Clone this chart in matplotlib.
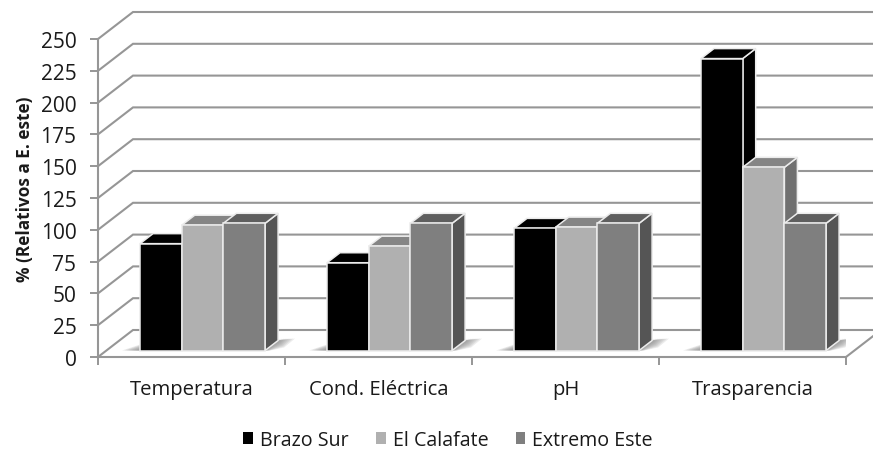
from matplotlib import pyplot as plt
from matplotlib.patches import Patch, Polygon
import numpy as np

categories = ['Temperatura', 'Cond. Eléctrica', 'pH', 'Trasparencia']
series_names = ['Brazo Sur', 'El Calafate', 'Extremo Este']
brazo_sur = [84, 69, 96, 229.5]
el_calafate = [98.5, 82, 97, 144]
extremo_este = [100, 100, 100, 100]
y_ticks = [0, 25, 50, 75, 100, 125, 150, 175, 200, 225, 250]

# front, top and side colour of each series
colors = [('#000000', '#000000', '#000000'),
          ('#b0b0b0', '#858585', '#707070'),
          ('#7f7f7f', '#5f5f5f', '#555555')]
grid_color = '#969696'
plt.rcParams['font.family'] = ['Open Sans', 'DejaVu Sans']

W, H = 873, 452
fig = plt.figure(figsize=(W/100, H/100), dpi=100)
ax = fig.add_axes([98/W, (H-358)/H, 748/W, 318/H])
ax.set_xlim(0, 4)
ax.set_ylim(0, 250)

# pixel sizes to data units
px_x = 4/748
px_y = 250/318

# wall and floor depth
wall_dx = 35*px_x
wall_dy = 27*px_y
for v in y_ticks:
    ax.plot([0, wall_dx, 4+wall_dx], [v, v+wall_dy, v+wall_dy], color=grid_color,
            lw=1.5, clip_on=False, zorder=1, solid_joinstyle='miter')
ax.plot([4, 4+wall_dx], [0, wall_dy], color=grid_color, lw=1.5, clip_on=False, zorder=1)

# bar geometry
bar_w = 41.7*px_x
base_y = 6.5*px_y
dx = 13*px_x
dy = 10*px_y

all_values = [brazo_sur, el_calafate, extremo_este]
for c in range(len(categories)):
    left = c + 42*px_x
    # floor shadows, faded by stacking
    for k in range(8):
        f = 1 - k/8
        x1 = left + 3*bar_w
        ax.add_patch(Polygon([(x1, base_y), (x1+dx, base_y+dy),
                              (x1+dx+17*f*px_x, base_y+dy+2*px_y),
                              (x1+dx+6*f*px_x, base_y+dy-7*f*px_y),
                              (x1+5*f*px_x, base_y)],
                             fc='#808080', alpha=0.15, ec='none', zorder=2))
        ax.add_patch(Polygon([(left, base_y), (left-18*f*px_x, base_y), (left, base_y+6*f*px_y)],
                             fc='#808080', alpha=0.16, ec='none', zorder=2))

    for s, values in enumerate(all_values):
        x0 = left + s*bar_w
        top = base_y + values[c]
        front, top_c, side = colors[s]
        z = 3 + s
        ax.add_patch(Polygon([(x0+bar_w, base_y), (x0+bar_w+dx, base_y+dy),
                              (x0+bar_w+dx, top+dy), (x0+bar_w, top)],
                             fc=side, ec='#ececec', lw=1.1, zorder=z))
        ax.add_patch(Polygon([(x0, top), (x0+dx, top+dy), (x0+bar_w+dx, top+dy), (x0+bar_w, top)],
                             fc=top_c, ec='#ececec', lw=1.1, zorder=z))
        ax.bar(x0, values[c], bar_w, bottom=base_y, align='edge', color=front,
               edgecolor='#ececec', linewidth=1.1, zorder=z)

for name in ['top', 'right']:
    ax.spines[name].set_visible(False)
for name in ['left', 'bottom']:
    ax.spines[name].set_color(grid_color)
    ax.spines[name].set_linewidth(1.5)
    ax.spines[name].set_zorder(8)

ax.set_yticks(y_ticks)
ax.set_xticks(range(5))
ax.set_xticklabels([])
ax.tick_params(axis='both', which='major', color=grid_color, width=1.4, length=5.5)
ax.tick_params(axis='y', labelsize=15, pad=10, labelcolor='#1a1a1a')

ax.set_xticks(np.arange(4) + 0.5, minor=True)
ax.set_xticklabels(categories, minor=True)
ax.tick_params(axis='x', which='minor', length=0, labelsize=14.6, pad=16, labelcolor='#1a1a1a')

ax.set_ylabel('% (Relativos a E. este)', fontsize=12.4, fontweight='bold', color='#1a1a1a')
ax.yaxis.set_label_coords(34/W, 263/H, transform=fig.transFigure)

handles = [Patch(fc=c[0], ec='none') for c in colors]
fig.legend(handles, series_names, loc='center', bbox_to_anchor=(448/W, (H-441)/H), ncol=3,
           frameon=False, fontsize=14.1, handlelength=0.5, handleheight=0.5,
           handletextpad=0.35, columnspacing=1.4, labelcolor='#1a1a1a')

fig.savefig('out.png', dpi=100)
